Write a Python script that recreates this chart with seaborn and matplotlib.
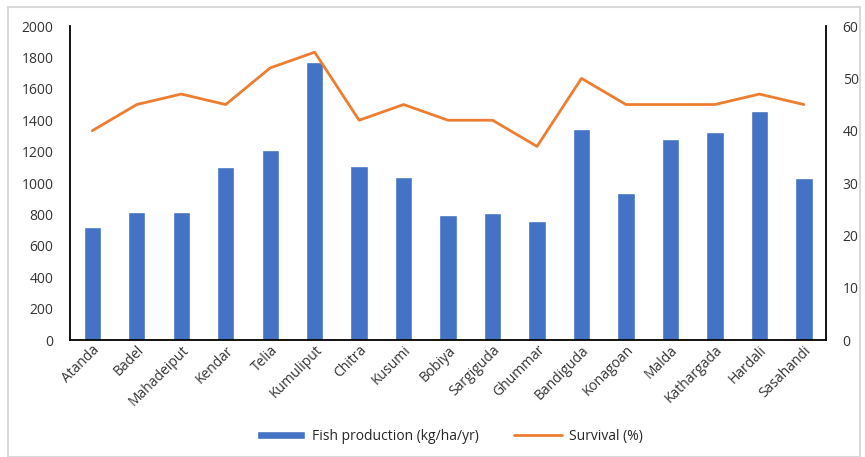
import numpy as np
import pandas as pd
import matplotlib
matplotlib.use("Agg")
import matplotlib.pyplot as plt
import seaborn as sns

# data
villages = ["Atanda", "Badel", "Mahadeiput", "Kendar", "Telia", "Kumuliput",
            "Chitra", "Kusumi", "Bobiya", "Sargiguda", "Ghummar", "Bandiguda",
            "Konagoan", "Malda", "Kathargada", "Hardali", "Sasahandi"]
fish_production = [720, 815, 815, 1102, 1210, 1770, 1108, 1038, 796, 809,
                   758, 1344, 936, 1280, 1325, 1459, 1032]
survival = [40, 45, 47, 45, 52, 55, 42, 45, 42, 42, 37, 50, 45, 45, 45, 47, 45]

df = pd.DataFrame({"Village": villages,
                   "Fish": fish_production,
                   "Survival": survival})

sns.set_style("white")
plt.rcParams["font.family"] = ["Open Sans", "DejaVu Sans"]

bar_color = "#4472C4"
line_color = "#ED7D31"

fig = plt.figure(figsize=(8.65, 4.57), dpi=100)
ax = fig.add_axes([0.081, 0.256, 0.874, 0.687])

sns.barplot(data=df, x="Village", y="Fish", color=bar_color, width=0.39,
            saturation=1, ax=ax, label="Fish production (kg/ha/yr)")
ax.set_ylim(0, 2000)
ax.set_yticks(range(0, 2001, 200))
ax.set_xlim(-0.5, len(villages) - 0.5)
ax.set_xlabel("")
ax.set_ylabel("")

ax2 = ax.twinx()
sns.lineplot(x=np.arange(len(villages)), y=df["Survival"], color=line_color,
             linewidth=2, ax=ax2, label="Survival (%)")
ax2.set_ylim(0, 60)
ax2.set_yticks(range(0, 61, 10))
ax2.set_ylabel("")

for a in (ax, ax2):
    a.spines["top"].set_visible(False)
    for s in a.spines.values():
        s.set_color("black")
        s.set_linewidth(1.3)
    a.tick_params(axis="y", length=0, labelsize=10, colors="#333333", pad=12)
ax.spines["right"].set_visible(False)
ax2.spines["left"].set_visible(False)
ax2.spines["bottom"].set_visible(False)

ax.tick_params(axis="x", length=0, labelsize=10, colors="#333333", pad=2)
plt.setp(ax.get_xticklabels(), rotation=45, ha="right", rotation_mode="anchor")

# merge legends at bottom
h1, l1 = ax.get_legend_handles_labels()
h2, l2 = ax2.get_legend_handles_labels()
if ax.get_legend():
    ax.get_legend().remove()
ax2.get_legend().remove()
fig.legend(h1 + h2, l1 + l2, loc="center", bbox_to_anchor=(0.52, 0.045),
           ncol=2, frameon=False, fontsize=10, columnspacing=2.5,
           handlelength=3.5, handleheight=0.6, handletextpad=0.5)

# light border around the chart area
fig.patches.append(plt.Rectangle((0.009, 0.0), 0.985, 0.985,
                                 transform=fig.transFigure, fill=False,
                                 edgecolor="#d9d9d9", linewidth=1.5))

fig.savefig("out.png", dpi=100)
